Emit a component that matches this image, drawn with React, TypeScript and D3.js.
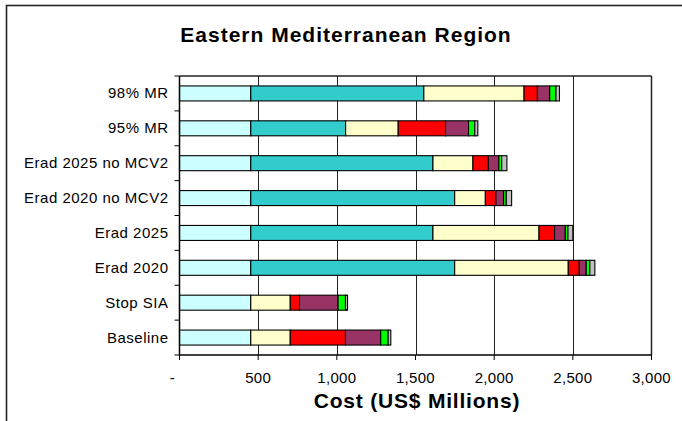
import React from "react";
import * as d3 from "d3";

const title = "Eastern Mediterranean Region";
const xAxisTitle = "Cost (US$ Millions)";

const categories = [
  "98% MR",
  "95% MR",
  "Erad 2025 no MCV2",
  "Erad 2020 no MCV2",
  "Erad 2025",
  "Erad 2020",
  "Stop SIA",
  "Baseline",
];

const seriesKeys = ["c1", "c2", "c3", "c4", "c5", "c6", "c7"];
const seriesColors = ["#CCFFFF", "#33CCCC", "#FFFFCC", "#FF0000", "#993366", "#00FF00", "#C0C0C0"];

const s1 = [453, 453, 453, 453, 453, 453, 453, 453];
const s2 = [1100, 603, 1158, 1296, 1158, 1296, 0, 0];
const s3 = [637, 334, 254, 195, 674, 722, 251, 251];
const s4 = [85, 301, 98, 67, 99, 70, 59, 351];
const s5 = [78, 146, 67, 49, 68, 44, 245, 224];
const s6 = [40, 40, 18, 17, 17, 23, 47, 47];
const s7 = [22, 19, 33, 34, 31, 32, 13, 17];

const xTicks = [0, 500, 1000, 1500, 2000, 2500, 3000];
const xTickLabels = ["-", "500", "1,000", "1,500", "2,000", "2,500", "3,000"];

const W = 682;
const H = 421;
const plot = { left: 179.5, right: 651.5, top: 76, bottom: 355 };

export default function App() {
  const seriesValues = [s1, s2, s3, s4, s5, s6, s7];
  const rows = categories.map((c, i) => {
    const r: any = { cat: c };
    seriesKeys.forEach((k, j) => (r[k] = seriesValues[j][i]));
    return r;
  });
  const stacked = d3.stack().keys(seriesKeys)(rows);

  const x = d3.scaleLinear().domain([0, 3000]).range([plot.left, plot.right]);
  const y = d3
    .scaleBand<string>()
    .domain(categories)
    .range([plot.top, plot.bottom])
    .paddingInner(0.57)
    .paddingOuter(0.285);
  const step = y.step();
  const font = "Arial, 'Liberation Sans', sans-serif";

  return (
    <svg
      width={W}
      height={H}
      style={{ position: "absolute", left: 0, top: 0, background: "#fff" }}
      fontFamily={font}
    >
      <rect x={0} y={0} width={W} height={H} fill="#fff" />
      {/* outer chart frame */}
      <rect x={6.5} y={5.5} width={W + 20} height={H + 20} fill="none" stroke="#222" strokeWidth={1.6} />

      {/* title */}
      <text x={346} y={41.5} textAnchor="middle" fontSize={21} fontWeight="bold" letterSpacing={1.0} fill="#000">
        {title}
      </text>

      {/* gridlines */}
      {xTicks.slice(1, -1).map((t) => (
        <line key={"g" + t} x1={Math.round(x(t)) + 0.5} x2={Math.round(x(t)) + 0.5} y1={plot.top} y2={plot.bottom} stroke="#222" strokeWidth={1} />
      ))}

      {/* plot border top/right */}
      <line x1={plot.left} x2={plot.right} y1={plot.top} y2={plot.top} stroke="#222" strokeWidth={1.5} />
      <line x1={plot.right} x2={plot.right} y1={plot.top} y2={plot.bottom} stroke="#222" strokeWidth={1.5} />

      {/* bars */}
      {stacked.map((layer, li) =>
        layer.map((d, i) => {
          const w = x(d[1]) - x(d[0]);
          if (w <= 0) return null;
          return (
            <rect
              key={li + "-" + i}
              x={x(d[0])}
              y={y(categories[i])!}
              width={w}
              height={y.bandwidth()}
              fill={seriesColors[li]}
              stroke="#000"
              strokeWidth={1.1}
            />
          );
        })
      )}

      {/* left axis */}
      <line x1={plot.left} x2={plot.left} y1={plot.top} y2={plot.bottom} stroke="#000" strokeWidth={1.5} />
      {d3.range(categories.length + 1).map((i) => (
        <line key={"yt" + i} x1={plot.left - 5} x2={plot.left} y1={plot.top + i * step} y2={plot.top + i * step} stroke="#000" strokeWidth={1} />
      ))}
      {categories.map((c) => (
        <text
          key={c}
          x={plot.left - 11}
          y={y(c)! + y.bandwidth() / 2 + 5}
          textAnchor="end"
          fontSize={15}
          letterSpacing={0.5}
          fill="#000"
        >
          {c}
        </text>
      ))}

      {/* bottom axis */}
      <line x1={plot.left} x2={plot.right} y1={plot.bottom} y2={plot.bottom} stroke="#000" strokeWidth={1.5} />
      {xTicks.map((t, i) => (
        <g key={"xt" + t}>
          <line x1={x(t)} x2={x(t)} y1={plot.bottom} y2={plot.bottom + 5} stroke="#000" strokeWidth={1} />
          <text
            x={x(t) - (i === 0 ? 7 : 0)}
            y={383}
            textAnchor="middle"
            fontSize={15}
            letterSpacing={0.3}
            fill="#000"
          >
            {xTickLabels[i]}
          </text>
        </g>
      ))}

      {/* axis title */}
      <text x={417} y={408} textAnchor="middle" fontSize={21} fontWeight="bold" letterSpacing={0.8} fill="#000">
        {xAxisTitle}
      </text>
    </svg>
  );
}
